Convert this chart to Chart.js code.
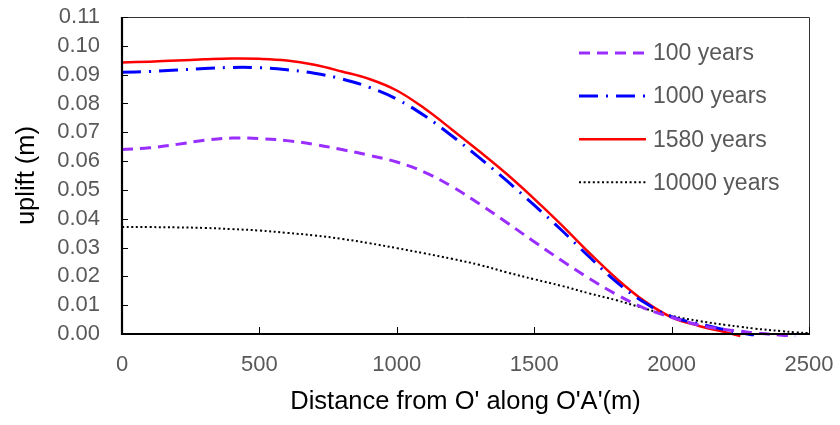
<!DOCTYPE html>
<html>
<head>
    <title>uplift</title>
    <script src="https://cdn.jsdelivr.net/npm/chart.js"></script>
    <style>
        body { margin: 0; background: #fff; }
        #wrap { width: 840px; height: 425px; }
    </style>
</head>
<body>
    <div id="wrap"><canvas id="myChart" width="840" height="425"></canvas></div>

    <script>
        // distanze lungo O'A' (m)
        const distances = [0, 100, 200, 300, 400, 500, 600, 700, 800, 900, 1000, 1100, 1200,
            1300, 1400, 1500, 1600, 1700, 1800, 1900, 2000, 2100, 2200, 2250, 2300, 2400, 2450, 2500];

        const years100 = [0.0640, 0.0646, 0.0658, 0.0672, 0.0680, 0.0678, 0.0671, 0.0658, 0.0640, 0.0620,
            0.0597, 0.0562, 0.0512, 0.0452, 0.0387, 0.0320, 0.0255, 0.0193, 0.0137, 0.0090,
            0.0058, 0.0031, 0.0015, 0.0010, 0.0004, -0.0004, -0.0006, null];

        const years1000 = [0.0908, 0.0911, 0.0916, 0.0921, 0.0925, 0.0924, 0.0917, 0.0905, 0.0885, 0.0856,
            0.0815, 0.0758, 0.0688, 0.0612, 0.0532, 0.0447, 0.0360, 0.0268, 0.0180, 0.0110,
            0.0060, 0.0035, 0.0014, 0.0004, -0.0003, null, null, null];

        const years1580 = [0.0942, 0.0945, 0.0949, 0.0953, 0.0956, 0.0955, 0.0949, 0.0934, 0.0911, 0.0885,
            0.0845, 0.0783, 0.0710, 0.0634, 0.0555, 0.0469, 0.0378, 0.0282, 0.0192, 0.0115,
            0.0058, 0.0028, 0.0005, -0.0007, null, null, null, null];

        const years10000 = [0.0371, 0.0371, 0.0370, 0.0368, 0.0364, 0.0359, 0.0351, 0.0342, 0.0330, 0.0315,
            0.0298, 0.0280, 0.0261, 0.0240, 0.0214, 0.0190, 0.0167, 0.0141, 0.0117, 0.0089,
            0.0063, 0.0045, 0.0031, 0.0025, 0.0019, 0.0010, 0.0006, 0.0003];

        const seriesNames = ['100 years', '1000 years', '1580 years', '10000 years'];
        const yTicks = [0, 0.01, 0.02, 0.03, 0.04, 0.05, 0.06, 0.07, 0.08, 0.09, 0.10, 0.11];

        const toPoints = arr => distances.map((d, i) => ({ x: d, y: arr[i] }));

        const styles = [
            { color: '#9a2eff', width: 3, dash: [11, 7] },
            { color: '#0000ff', width: 3, dash: [19, 8, 2, 8] },
            { color: '#ff0000', width: 2.5, dash: [] },
            { color: '#000000', width: 2, dash: [2, 2.6] }
        ];
        const allSeries = [years100, years1000, years1580, years10000];

        const datasets = allSeries.map((arr, i) => ({
            label: seriesNames[i],
            data: toPoints(arr),
            borderColor: styles[i].color,
            borderWidth: styles[i].width,
            borderDash: styles[i].dash,
            pointRadius: 0,
            fill: false,
            tension: 0.4,
            spanGaps: false,
            clip: 4
        }));

        // assi, tacche interne e legenda dentro il grafico
        const framePlugin = {
            id: 'frame',
            afterDatasetsDraw(chart) {
                const { ctx, chartArea: a, scales } = chart;
                ctx.save();
                ctx.setLineDash([]);
                // bordo sottile sopra e a destra
                ctx.strokeStyle = '#333';
                ctx.lineWidth = 1;
                ctx.beginPath();
                ctx.moveTo(a.left, a.top + 0.5);
                ctx.lineTo(a.right + 0.5, a.top + 0.5);
                ctx.lineTo(a.right + 0.5, a.bottom);
                ctx.stroke();
                // tacche
                ctx.strokeStyle = '#000';
                ctx.lineWidth = 1;
                scales.y.ticks.forEach(t => {
                    const y = Math.round(scales.y.getPixelForValue(t.value)) + 0.5;
                    ctx.beginPath();
                    ctx.moveTo(a.left, y);
                    ctx.lineTo(a.left + 6, y);
                    ctx.stroke();
                });
                scales.x.ticks.forEach(t => {
                    const x = Math.round(scales.x.getPixelForValue(t.value)) + 0.5;
                    ctx.beginPath();
                    ctx.moveTo(x, a.bottom);
                    ctx.lineTo(x, a.bottom - 7);
                    ctx.stroke();
                });
                // assi spessi
                ctx.lineWidth = 2.2;
                ctx.beginPath();
                ctx.moveTo(a.left, a.top);
                ctx.lineTo(a.left, a.bottom);
                ctx.lineTo(a.right + 1, a.bottom);
                ctx.stroke();

                // legenda
                const lx = a.right - 230, ly = a.top + 36;
                ctx.font = '23px "Liberation Sans", Arial, sans-serif';
                ctx.textBaseline = 'middle';
                ctx.fillStyle = '#595959';
                chart.data.datasets.forEach((ds, i) => {
                    const y = ly + i * 43.1;
                    ctx.strokeStyle = ds.borderColor;
                    ctx.lineWidth = ds.borderWidth;
                    ctx.setLineDash(ds.borderDash);
                    ctx.beginPath();
                    ctx.moveTo(lx, y);
                    ctx.lineTo(lx + 67, y);
                    ctx.stroke();
                    ctx.setLineDash([]);
                    ctx.fillText(ds.label, lx + 74, y + 1);
                });
                ctx.restore();
            }
        };

        const ctx = document.getElementById('myChart').getContext('2d');
        new Chart(ctx, {
            type: 'line',
            data: { datasets: datasets },
            options: {
                responsive: false,
                animation: false,
                layout: { padding: { top: 17, right: 31, left: 0, bottom: 0 } },
                plugins: { legend: { display: false }, tooltip: { enabled: false } },
                scales: {
                    x: {
                        type: 'linear',
                        min: 0,
                        max: 2500,
                        grid: { display: false, drawTicks: true, tickLength: 18 },
                        border: { display: false },
                        ticks: {
                            stepSize: 500,
                            padding: 0,
                            color: '#595959',
                            font: { family: '"Liberation Sans", Arial, sans-serif', size: 22 },
                            maxRotation: 0,
                            callback: v => String(v)
                        },
                        title: {
                            display: true,
                            text: "Distance from O' along O'A'(m)",
                            color: '#000',
                            font: { family: '"Liberation Sans", Arial, sans-serif', size: 25.5 },
                            padding: { top: 0, bottom: 8 }
                        },
                        afterFit: s => { s.height = 91; }
                    },
                    y: {
                        min: 0,
                        max: 0.11,
                        grid: { display: false, drawTicks: true, tickLength: 22 },
                        border: { display: false },
                        afterBuildTicks: s => { s.ticks = yTicks.map(v => ({ value: v })); },
                        ticks: {
                            autoSkip: false,
                            padding: 0,
                            color: '#595959',
                            font: { family: '"Liberation Sans", Arial, sans-serif', size: 22 },
                            callback: v => v.toFixed(2)
                        },
                        title: {
                            display: true,
                            text: 'uplift (m)',
                            color: '#000',
                            font: { family: '"Liberation Sans", Arial, sans-serif', size: 25.5 },
                            padding: { top: 12, bottom: 0 }
                        },
                        afterFit: s => { s.width = 122; }
                    }
                }
            },
            plugins: [framePlugin]
        });
    </script>
</body>
</html>
